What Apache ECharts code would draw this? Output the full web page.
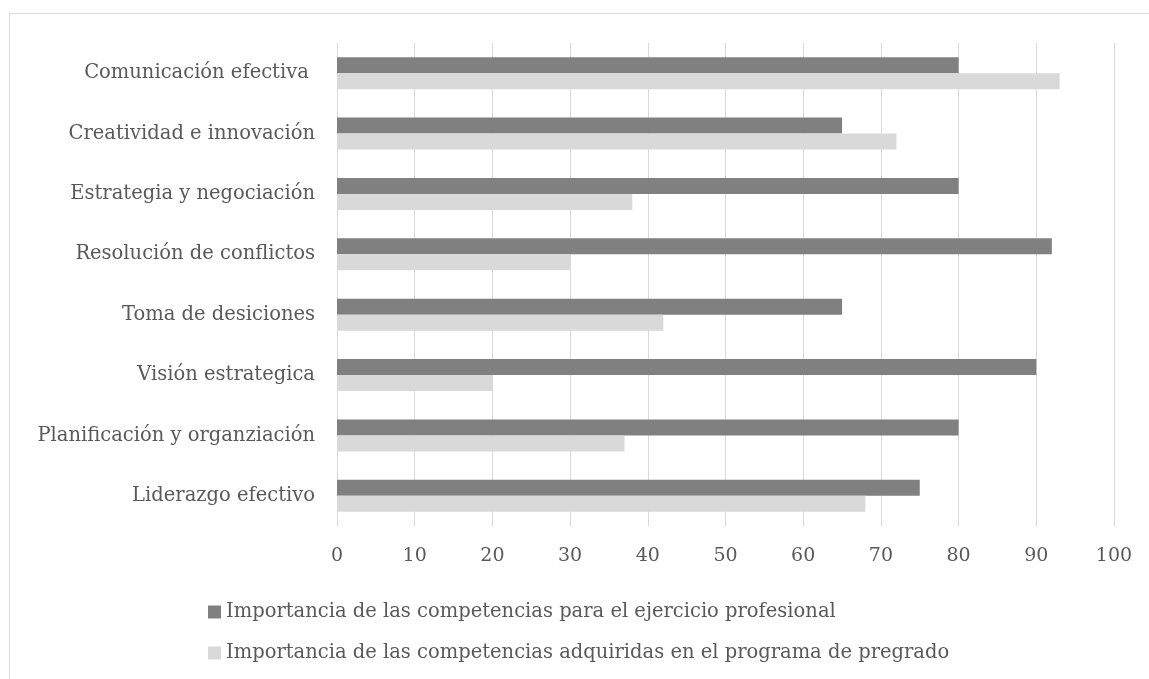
<!DOCTYPE html>
<html>
<head>
<meta charset="utf-8">
<style>
  html, body { margin: 0; padding: 0; background: #fff; }
  #chart { width: 1149px; height: 679px; }
</style>
<script src="https://cdn.jsdelivr.net/npm/echarts@6/dist/echarts.min.js"></script>
</head>
<body>
<div id="chart"></div>
<script>
// Competencias: importancia para el ejercicio vs. adquiridas en pregrado
const categories = [
  'Comunicación efectiva ',
  'Creatividad e innovación',
  'Estrategia y negociación',
  'Resolución de conflictos',
  'Toma de desiciones',
  'Visión estrategica',
  'Planificación y organziación',
  'Liderazgo efectivo'
];
const seriesNames = [
  'Importancia de las competencias para el ejercicio profesional',
  'Importancia de las competencias adquiridas en el programa de pregrado'
];
const ejercicioProfesional = [80, 65, 80, 92, 65, 90, 80, 75];
const programaPregrado = [93, 72, 38, 30, 42, 20, 37, 68];

const FONT = 'DejaVu Serif';
const TEXT = '#595959';

const chart = echarts.init(document.getElementById('chart'), null, { renderer: 'canvas' });
chart.setOption({
  animation: false,
  backgroundColor: '#ffffff',
  textStyle: { fontFamily: FONT },
  graphic: [{
    type: 'rect',
    shape: { x: 9.5, y: 13.5, width: 1300, height: 800 },
    style: { fill: 'none', stroke: '#d9d9d9', lineWidth: 1 },
    silent: true
  }],
  grid: { left: 337, right: 35, top: 43, bottom: 153, containLabel: false },
  xAxis: {
    type: 'value',
    min: 0, max: 100, interval: 10,
    axisLine: { show: false },
    axisTick: { show: false },
    splitLine: { show: true, lineStyle: { color: '#d9d9d9', width: 1 } },
    axisLabel: { color: TEXT, fontFamily: FONT, fontSize: 19, margin: 21 }
  },
  yAxis: {
    type: 'category',
    data: categories,
    inverse: true,
    axisLine: { show: false },
    axisTick: { show: false },
    splitLine: { show: false },
    axisLabel: { color: TEXT, fontFamily: FONT, fontSize: 19.5, margin: 22 }
  },
  legend: {
    orient: 'vertical',
    left: 208,
    top: 602,
    padding: 0,
    itemWidth: 13,
    itemHeight: 13,
    itemGap: 21,
    icon: 'rect',
    textStyle: { color: TEXT, fontFamily: FONT, fontSize: 19.5 },
    data: seriesNames
  },
  series: [
    {
      name: seriesNames[0],
      type: 'bar',
      data: ejercicioProfesional,
      barWidth: 16,
      barGap: '0%',
      itemStyle: { color: '#808080' }
    },
    {
      name: seriesNames[1],
      type: 'bar',
      data: programaPregrado,
      barWidth: 16,
      barGap: '0%',
      itemStyle: { color: '#d9d9d9' }
    }
  ]
});
</script>
</body>
</html>
